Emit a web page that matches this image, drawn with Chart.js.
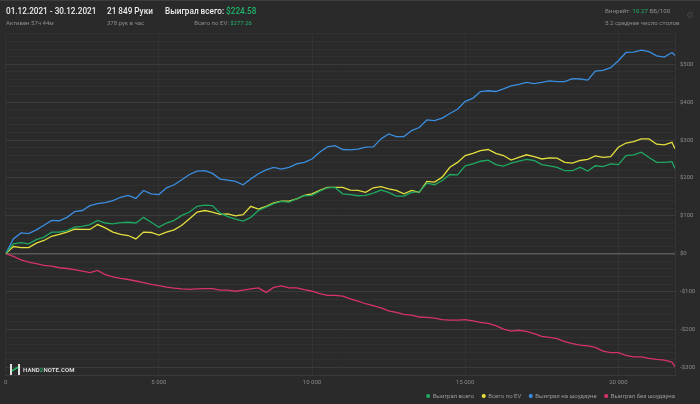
<!DOCTYPE html>
<html><head><meta charset="utf-8">
<script src="https://cdn.jsdelivr.net/npm/chart.js@4/dist/chart.umd.min.js"></script>
<style>
html,body{margin:0;padding:0;background:#2a2a2a;width:700px;height:404px;overflow:hidden;font-family:Roboto,"Noto Sans",sans-serif;}
#wrap{position:relative;width:700px;height:404px;border-top:1px solid #3c3c3c;box-sizing:border-box;}
canvas{position:absolute;left:0;top:-1px;}
.t{position:absolute;white-space:nowrap;line-height:1;}
.big{font-size:8.2px;font-weight:500;color:#ececec;}
.small{font-size:6px;color:#8c8c8c;}
.g{color:#1fb36a;}
.logo{position:absolute;left:10px;top:362px;width:60px;height:13px;}
.logo .bar{position:absolute;width:2px;height:11px;background:#e0e0e0;top:1px;}
.logo .mid{position:absolute;left:2px;top:5px;width:6px;height:2px;background:#22b35e;transform:skewY(-30deg);}
.logo .txt{position:absolute;left:13px;top:3px;font-size:6px;font-weight:700;color:#d8d8d8;letter-spacing:0.1px;}
.gear{position:absolute;left:685px;top:9px;width:10px;height:10px;border-radius:2px;color:#444;font-size:9px;line-height:10px;text-align:center;}
</style></head>
<body>
<div id="wrap">
<canvas id="c" width="700" height="404"></canvas>
<div class="t big" style="left:6px;top:6px;">01.12.2021 - 30.12.2021</div>
<div class="t small" style="left:6px;top:19px;">Активен 57ч 44м</div>
<div class="t big" style="left:107px;top:6px;">21 849 Руки</div>
<div class="t small" style="left:107px;top:19px;">378 рук в час</div>
<div class="t big" style="left:165px;top:6px;">Выиграл всего: <span class="g">$224.58</span></div>
<div class="t small" style="right:448px;top:19px;">Всего по EV: <span class="g">$277.26</span></div>
<div class="t small" style="left:605px;top:7px;font-size:6.2px;">Винрейт: <span class="g">10.27</span> ББ/100</div>
<div class="t small" style="left:605px;top:19px;font-size:6.2px;">5.2 среднее число столов</div>
<div class="gear">⚙</div>
<div class="logo"><div class="bar" style="left:0"></div><div class="bar" style="left:8px"></div><div class="mid"></div><div class="txt">HAND<span style="color:#22b35e">2</span>NOTE.COM</div></div>
</div>
<script>
const hands = [0,250,500,750,1000,1250,1500,1750,2000,2250,2500,2750,3000,3250,3500,3750,4000,4250,4500,4750,5000,5250,5500,5750,6000,6250,6500,6750,7000,7250,
7500,7750,8000,8250,8500,8750,9000,9250,9500,9750,10000,10250,10500,10750,11000,11250,11500,11750,12000,12250,12500,12750,13000,13250,13500,13750,14000,14250,14500,
14750,15000,15250,15500,15750,16000,16250,16500,16750,17000,17250,17500,17750,18000,18250,18500,18750,19000,19250,19500,19750,20000,20250,20500,20750,21000,21250,21500,21750,21849];

const wonTotal = [0,26,29,26,37,44,57,57,61,70,72,77,88,81,79,82,83,81,96,83,70,81,88,101,110,125,128,127,107,98,
91,86,96,114,123,132,138,136,145,153,154,165,174,175,158,156,153,154,160,168,162,152,152,162,163,186,182,193,209,
208,232,237,244,247,235,231,239,244,249,246,235,232,228,219,219,228,218,232,230,237,235,259,261,268,254,241,241,243,224.58];

const evTotal = [0,19,16,16,28,35,46,51,57,65,64,64,77,68,57,51,48,39,57,56,49,57,63,75,92,110,114,110,104,105,
100,103,125,118,125,134,139,139,145,154,158,167,175,175,175,168,167,162,174,177,171,167,158,167,162,191,189,202,228,
241,259,265,272,275,265,259,247,254,261,256,250,253,252,241,239,246,249,258,254,256,281,292,296,303,303,289,287,294,277.26];

const wonShowdown = [0,39,55,53,63,75,88,87,96,111,114,127,132,135,140,149,154,146,167,158,156,174,182,195,209,218,219,212,197,194,
191,182,197,211,221,228,223,228,237,241,250,268,282,285,275,274,276,281,282,303,316,309,309,325,333,353,351,358,370,
381,402,410,428,430,428,435,443,447,452,449,452,456,454,454,462,461,458,482,484,491,509,531,532,537,533,522,519,531,523];

const wonNonShowdown = [0,-7,-16,-22,-26,-31,-33,-37,-39,-42,-46,-50,-44,-55,-61,-65,-68,-72,-76,-81,-84,-88,-91,-93,-94,-93,-92,-92,-96,-96,
-99,-96,-93,-90,-102,-89,-85,-90,-90,-95,-99,-105,-110,-110,-112,-119,-125,-132,-137,-143,-151,-155,-160,-162,-167,-168,-170,-174,-175,
-175,-174,-177,-181,-184,-190,-199,-204,-202,-205,-211,-218,-221,-224,-232,-237,-241,-243,-247,-257,-261,-261,-268,-272,-272,-276,-279,-281,-286,-298];

const seriesNames = ['Выиграл всего','Всего по EV','Выиграл на шоудауне','Выиграл без шоудауна'];
const seriesColors = ['#1ea862','#e3df3c','#3a8ee0','#d6336a'];
const xTicks = [0,5000,10000,15000,20000];
const xTickLabels = ['0','5 000','10 000','15 000','20 000'];

const allSeries = [wonTotal, evTotal, wonShowdown, wonNonShowdown];
const datasets = allSeries.map((s,i)=>({
  label: seriesNames[i],
  data: s.map((v,j)=>({x:hands[j], y:v})),
  borderColor: seriesColors[i],
  backgroundColor: seriesColors[i],
  borderWidth: 1.3,
  pointRadius: 0,
  tension: 0,
  fill: false
}));

const shiftLegend = {
  id: 'shiftLegend',
  afterLayout(chart) { if (chart.legend) { chart.legend.right -= 17; } }
};

new Chart(document.getElementById('c'), {
  type: 'line',
  data: { datasets },
  plugins: [shiftLegend],
  options: {
    responsive: false,
    animation: false,
    devicePixelRatio: 1,
    layout: { padding: { left: 5.5, top: 33.9, right: 0, bottom: 0 } },
    plugins: {
      tooltip: { enabled: false },
      legend: {
        position: 'bottom',
        align: 'end',
        maxHeight: 19,
        labels: {
          usePointStyle: true, pointStyle: 'circle', boxWidth: 3, boxHeight: 2,
          padding: 8, color: '#9a9a9a',
          font: { family: 'Roboto', size: 6 }
        }
      }
    },
    scales: {
      x: {
        type: 'linear', min: 0, max: 21849,
        afterBuildTicks: s => { s.ticks = xTicks.map(v=>({value:v})); },
        ticks: {
          color: '#8a8a8a', font: { family: 'Roboto', size: 6 }, padding: 4, maxRotation: 0,
          callback: (v) => { const k = xTicks.indexOf(v); return k >= 0 ? xTickLabels[k] : ''; }
        },
        grid: { color: '#323232', drawTicks: false, lineWidth: 1 },
        border: { display: true, color: '#3a3a3a' },
        afterFit: s => { s.height = 10; }
      },
      y: {
        position: 'right', min: -320, max: 580,
        ticks: {
          stepSize: 20, autoSkip: false, color: '#8a8a8a', font: { family: 'Roboto', size: 6 }, padding: 5,
          callback: v => (v % 100 === 0) ? (v < 0 ? '-$' + Math.abs(v) : '$' + v) : ''
        },
        grid: {
          drawTicks: false,
          color: ctx => { const v = ctx.tick.value; if (v === 0) return '#5a5a5a'; return v % 100 === 0 ? '#3b3b3b' : '#313131'; },
          lineWidth: ctx => ctx.tick.value === 0 ? 1.5 : 1
        },
        border: { display: true, color: '#353535' },
        afterFit: s => { s.width = 25; }
      }
    }
  }
});
</script>
</body></html>
